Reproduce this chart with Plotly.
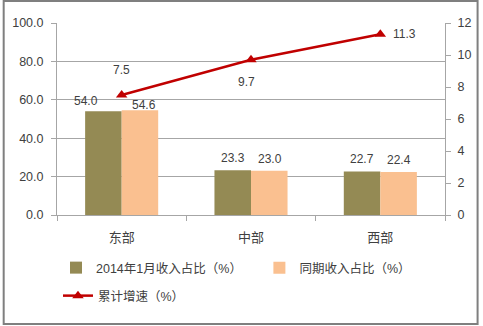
import plotly.graph_objects as go

# Regional revenue shares and cumulative growth
regions = ["东部", "中部", "西部"]
share_2014_jan = [54.0, 23.3, 22.7]
share_prior = [54.6, 23.0, 22.4]
growth = [7.5, 9.7, 11.3]

left_ticks = [0, 20, 40, 60, 80, 100]
right_ticks = [0, 2, 4, 6, 8, 10, 12]

W, H = 483, 326
L, R, T, B = 55, 35, 23, 111
PW, PH = W - L - R, H - T - B


def px_x(p):
    return (p - L) / PW


def px_y(p):
    return (H - B - p) / PH


FONT = "Liberation Sans, Noto Sans CJK SC, sans-serif"
TXT = "#404040"
GRID = "#a6a6a6"

fig = go.Figure()

fig.add_trace(go.Bar(
    x=regions, y=share_2014_jan, name="2014年1月收入占比（%）",
    marker=dict(color="#948a54", line=dict(width=0)), legend="legend",
))
fig.add_trace(go.Bar(
    x=regions, y=share_prior, name="同期收入占比（%）",
    marker=dict(color="#fac090", line=dict(width=0)), legend="legend2",
))
fig.add_trace(go.Scatter(
    x=regions, y=growth, name="累计增速（%）", yaxis="y2",
    mode="lines+markers",
    line=dict(color="#c00000", width=2.5),
    marker=dict(symbol="triangle-up", size=10, color="#c00000"),
    cliponaxis=False, legend="legend3",
))


def label(x, y, yref, v, dx, dy):
    fig.add_annotation(x=x, y=y, xref="x", yref=yref, text=f"{v:.1f}",
                       showarrow=False, xshift=dx, yshift=dy,
                       font=dict(size=12, color=TXT, family=FONT))


# bar value labels (pixel offsets from each bar's category centre)
dark_shift = [(-35.5, 10), (-18.5, 12), (-18.5, 12)]
light_shift = [(22.5, 5), (18.5, 12), (18.5, 12)]
for r, v, (dx, dy) in zip(regions, share_2014_jan, dark_shift):
    label(r, v, "y", v, dx, dy)
for r, v, (dx, dy) in zip(regions, share_prior, light_shift):
    label(r, v, "y", v, dx, dy)

# growth line value labels
line_shift = [(0, 25), (-5, -22), (24, 0)]
for r, v, (dx, dy) in zip(regions, growth, line_shift):
    label(r, v, "y2", v, dx, dy)

# outer frame
fig.add_shape(type="rect", xref="paper", yref="paper",
              x0=px_x(1), x1=px_x(W - 2), y0=px_y(H - 2), y1=px_y(1),
              line=dict(color="#7f7f7f", width=2), layer="below")

legend_common = dict(orientation="h", xanchor="left", yanchor="middle",
                     font=dict(size=12.5, color=TXT), bgcolor="rgba(0,0,0,0)")

fig.update_layout(
    width=W, height=H,
    margin=dict(l=L, r=R, t=T, b=B),
    paper_bgcolor="white", plot_bgcolor="white",
    font=dict(family=FONT, size=12, color=TXT),
    showlegend=True,
    barmode="group", bargap=0.435, bargroupgap=0,
    xaxis=dict(
        showline=True, linecolor=GRID, linewidth=1,
        ticks="outside", tickson="boundaries", ticklen=5, tickcolor=GRID,
        tickfont=dict(size=13, color=TXT), showgrid=False,
        ticklabelstandoff=10,
    ),
    yaxis=dict(
        range=[0, 100], tickvals=left_ticks,
        ticktext=[f"{v:.1f}" for v in left_ticks],
        showline=True, linecolor=GRID, linewidth=1,
        ticks="outside", ticklen=5, tickcolor=GRID,
        showgrid=True, gridcolor=GRID, gridwidth=1,
        zeroline=False, tickfont=dict(size=12.5, color=TXT),
        ticklabelstandoff=5,
    ),
    yaxis2=dict(
        range=[0, 12], tickvals=right_ticks, overlaying="y", side="right",
        showline=True, linecolor=GRID, linewidth=1,
        ticks="outside", ticklen=5, tickcolor=GRID,
        showgrid=False, zeroline=False, tickfont=dict(size=12.5, color=TXT),
        ticklabelstandoff=4,
    ),
    legend=dict(x=px_x(54), y=px_y(268), **legend_common),
    legend2=dict(x=px_x(260), y=px_y(268), **legend_common),
    legend3=dict(x=px_x(56), y=px_y(296), **legend_common),
)

fig.write_html("out.html")
